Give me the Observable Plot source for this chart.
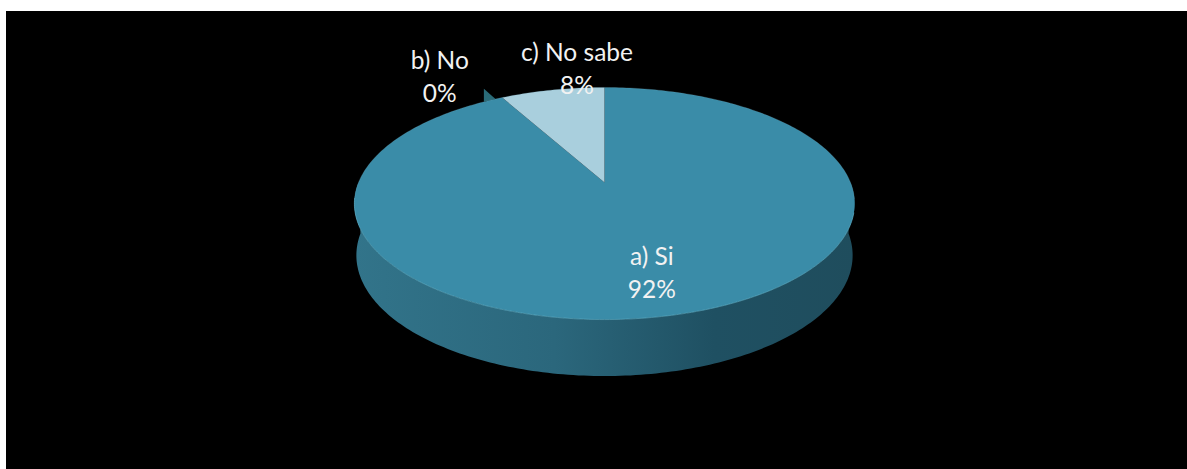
<!DOCTYPE html>
<html lang="es">
<head>
<meta charset="utf-8">
<title>a) Si, b) No, c) No sabe</title>
<script src="https://cdn.jsdelivr.net/npm/d3@7"></script>
<script src="https://cdn.jsdelivr.net/npm/@observablehq/plot@0.6"></script>
<style>
  html, body { margin: 0; padding: 0; background: #fff; }
  #chart { position: absolute; left: 6px; top: 11px; }
  #chart svg { display: block; background: #000; }
</style>
</head>
<body>
<div id="chart"></div>
<script>
// Survey answers, in percent, clockwise from twelve o'clock.
const answers = ["a) Si", "b) No", "c) No sabe"];
const shares = [92, 0, 8];
const sliceColors = ["#3a8ca8", "#2a6b78", "#a9cfdd"];

// Camera for the tilted disc: all lengths are in units of the pie radius.
const width = 1181, height = 458;
const pxPerUnit = 250;
const originX = 598 / pxPerUnit;      // apex distance from the frame's left edge
const originY = 171 / pxPerUnit;      // apex distance from the frame's top edge
const foreshorten = 0.449;
const squeeze = 0.984;
const perspective = 0.181;
const wallDrop = 0.204, wallScaleX = 0.992, wallScaleY = 1.04;

const rad = (deg) => (deg * Math.PI) / 180;

// Projects a point of the pie's top face, given its clockwise angle and radius.
function face(deg, r = 1) {
  const u = r * Math.sin(rad(deg));
  const v = r * Math.cos(rad(deg));
  const w = 1 + perspective * v;
  return {x: (squeeze * u) / w, y: (foreshorten * v) / w};
}

// The same angle on the lower edge of the side wall.
function base(deg) {
  const p = face(deg);
  return {x: p.x * wallScaleX, y: p.y * wallScaleY - wallDrop};
}

const steps = (from, to) =>
  d3.range(0, 1.0001, 1 / Math.max(1, Math.ceil(to - from))).map((t) => from + t * (to - from));

// Slice extents derived from the shares.
let running = 0;
const slices = answers.map((name, i) => {
  const start = running * 3.6;
  running += shares[i];
  return {name, share: shares[i], start, end: running * 3.6};
});

const sliceOutlines = slices
  .filter((s) => s.share > 0)
  .flatMap((s) => [
    {name: s.name, ...face(0, 0)},
    ...steps(s.start, s.end).map((deg) => ({name: s.name, ...face(deg)}))
  ]);

const wallOutline = [
  ...steps(90, 270).map((deg) => face(deg)),
  ...steps(90, 270).reverse().map((deg) => base(deg))
];

const frontRim = steps(105, 262).map((deg) => face(deg));
const backRim = steps(-98, 98).map((deg) => face(deg));

// The empty "No" slice still shows as a dark nick standing on the rim.
const nickAngle = slices[1].start;
const nickFoot = face(nickAngle - 5.5);
const nick = [
  face(nickAngle - 2),
  {x: nickFoot.x, y: nickFoot.y + 0.052},
  nickFoot
];

// Label anchors: slice mid-angle and radius, plus a nudge in pie units.
const labelPlacement = [
  {r: 0.78, nudgeX: -0.032, nudgeY: 0.04},
  {r: 1.3, nudgeX: -0.148, nudgeY: 0.008},
  {r: 1.0, nudgeX: 0.098, nudgeY: 0.091}
];
const labels = slices.map((s, i) => {
  const p = face((s.start + s.end) / 2, labelPlacement[i].r);
  return {
    text: `${s.name}\n${s.share}%`,
    x: p.x + labelPlacement[i].nudgeX,
    y: p.y + labelPlacement[i].nudgeY
  };
});

// Side-wall shading, lighter on the left and darker towards the right.
const wallGradient = () => {
  const defs = d3.create("svg:defs");
  const g = defs.append("linearGradient").attr("id", "wall-shade");
  [[0, "#32748a"], [0.4, "#2b677c"], [0.72, "#1f5062"], [1, "#1f4d5d"]].forEach(([o, c]) =>
    g.append("stop").attr("offset", o).attr("stop-color", c)
  );
  return defs.node();
};

const chart = Plot.plot({
  width,
  height,
  margin: 0,
  style: {background: "#000"},
  x: {domain: [-originX, width / pxPerUnit - originX], range: [0, width], axis: null},
  y: {domain: [originY, originY - height / pxPerUnit], range: [0, height], axis: null},
  color: {domain: answers, range: sliceColors},
  marks: [
    wallGradient,
    Plot.line(wallOutline, {x: "x", y: "y", curve: "linear-closed", fill: "url(#wall-shade)", stroke: "none"}),
    Plot.line(nick, {x: "x", y: "y", curve: "linear-closed", fill: sliceColors[1], stroke: "none"}),
    Plot.line(sliceOutlines, {x: "x", y: "y", z: "name", fill: "name", curve: "linear-closed", stroke: "none"}),
    Plot.line(backRim, {x: "x", y: "y", stroke: "#7fb6c8", strokeWidth: 0.8, strokeOpacity: 0.25}),
    Plot.line(frontRim, {x: "x", y: "y", stroke: "#62b3ca", strokeWidth: 1, strokeOpacity: 0.6}),
    Plot.text(labels, {
      x: "x",
      y: "y",
      text: "text",
      fill: "#f2f2f2",
      fontFamily: "Lato, 'Open Sans', sans-serif",
      fontSize: 24.5,
      lineHeight: 1.35,
      textAnchor: "middle",
      lineAnchor: "middle"
    })
  ]
});

document.getElementById("chart").append(chart);
</script>
</body>
</html>
